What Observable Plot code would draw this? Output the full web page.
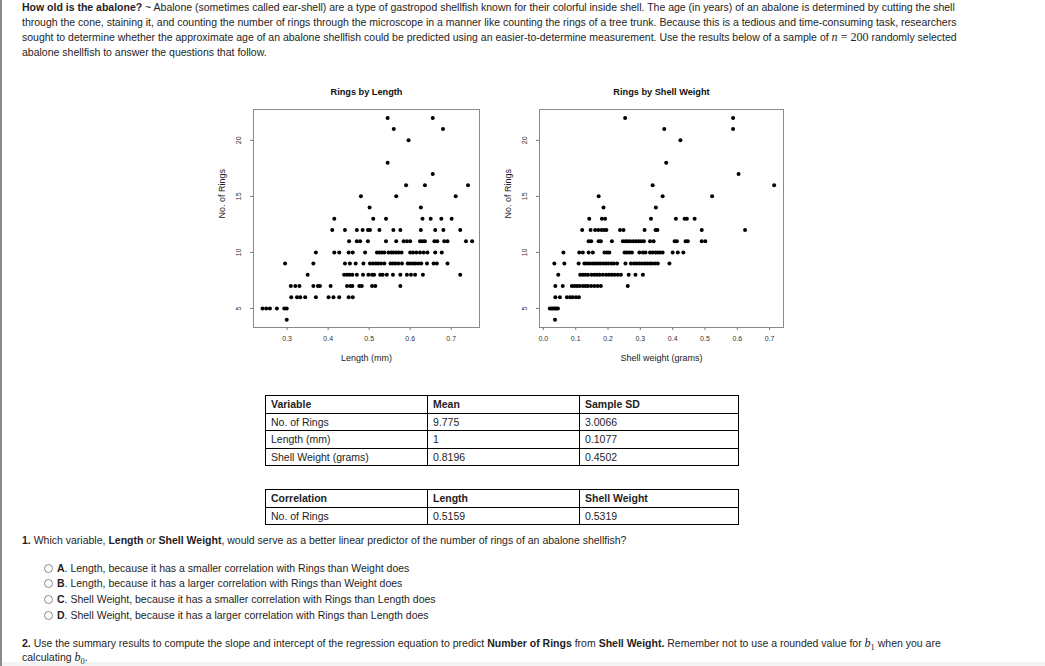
<!DOCTYPE html>
<html>
<head>
<meta charset="utf-8">
<script src="https://cdn.jsdelivr.net/npm/d3@7"></script>
<script src="https://cdn.jsdelivr.net/npm/@observablehq/plot@0.6"></script>
<style>
  html, body { margin: 0; padding: 0; background: #fff; }
  body { width: 1045px; height: 666px; position: relative; overflow: hidden;
         font-family: "Liberation Sans", Arial, Helvetica, sans-serif; color: #1e1e1e; }
  .abs { position: absolute; white-space: nowrap; }
  .txt { line-height: 15px; }
  .math { font-family: "Liberation Serif", "DejaVu Serif", serif; font-size: 1.15em; }
  .radio { position: absolute; width: 7px; height: 7px; border: 1px solid #8a8a8a; border-radius: 50%; background: #fff; }
  table { border-collapse: collapse; table-layout: fixed; position: absolute; }
  td { border: 1px solid #000; padding: 0 5px; height: 16.6px; line-height: 16px; white-space: nowrap; overflow: hidden; }
  th { border: 1px solid #000; padding: 0 5px; height: 16.6px; line-height: 16px; text-align: left; font-weight: bold; }
</style>
</head>
<body>
<div class="abs" style="left:0;top:0;width:2px;height:666px;background:#8c8c8c"></div>
<div class="abs" style="left:2px;top:662px;width:1043px;height:4px;background:#f4f4f4"></div>

<div id="intro" class="abs txt" style="left:22px;top:0px">
  <span id="l1"><b>How old is the abalone?</b> ~ Abalone (sometimes called ear-shell) are a type of gastropod shellfish known for their colorful inside shell. The age (in years) of an abalone is determined by cutting the shell</span><br>
  <span id="l2">through the cone, staining it, and counting the number of rings through the microscope in a manner like counting the rings of a tree trunk. Because this is a tedious and time-consuming task, researchers</span><br>
  <span id="l3">sought to determine whether the approximate age of an abalone shellfish could be predicted using an easier-to-determine measurement. Use the results below of a sample of <span class="math"><i>n</i> = 200</span> randomly selected</span><br>
  <span>abalone shellfish to answer the questions that follow.</span>
</div>

<div id="plotLength" class="abs" style="left:193px;top:80px;width:296px;height:290px"></div>
<div id="plotWeight" class="abs" style="left:483px;top:80px;width:310px;height:290px"></div>

<table id="statsTable" style="left:265px;top:395px;width:473px"></table>
<table id="corrTable" style="left:265px;top:489px;width:473px"></table>

<div class="abs txt" style="left:22px;top:533px"><b>1.</b> Which variable, <b>Length</b> or <b>Shell Weight</b>, would serve as a better linear predictor of the number of rings of an abalone shellfish?</div>
<div id="options"></div>

<div class="abs txt" style="left:22px;top:636px"><b>2.</b> Use the summary results to compute the slope and intercept of the regression equation to predict <b>Number of Rings</b> from <b>Shell Weight.</b> Remember not to use a rounded value for <span class="math"><i>b</i><sub style="font-size:0.7em">1</sub></span> when you are</div>
<div class="abs txt" style="left:22px;top:650px">calculating <span class="math"><i>b</i><sub style="font-size:0.7em">0</sub></span>.</div>

<script>
// ---------------- DATA ----------------
// Rings by Length: [length (mm), number of rings]
const lengthPoints = [
  [0.545,22],[0.655,22],
  [0.560,21],[0.680,21],
  [0.596,20],
  [0.545,18],
  [0.655,17],
  [0.590,16],[0.636,16],[0.741,16],
  [0.480,15],[0.566,15],[0.711,15],
  [0.501,14],[0.626,14],
  [0.415,13],[0.510,13],[0.541,13],[0.630,13],[0.650,13],[0.676,13],[0.701,13],
  [0.410,12],[0.441,12],[0.470,12],[0.484,12],[0.497,12],[0.502,12],[0.525,12],[0.559,12],[0.576,12],[0.626,12],[0.661,12],[0.681,12],[0.722,12],
  [0.451,11],[0.470,11],[0.478,11],[0.497,11],[0.541,11],[0.566,11],[0.584,11],[0.592,11],[0.600,11],[0.624,11],[0.630,11],[0.636,11],[0.659,11],[0.666,11],[0.683,11],[0.691,11],[0.736,11],[0.751,11],
  [0.370,10],[0.415,10],[0.427,10],[0.450,10],[0.460,10],[0.490,10],[0.519,10],[0.525,10],[0.531,10],[0.537,10],[0.547,10],[0.554,10],[0.559,10],[0.566,10],[0.572,10],[0.579,10],[0.600,10],[0.607,10],[0.615,10],[0.624,10],[0.633,10],[0.642,10],[0.661,10],[0.677,10],
  [0.295,9],[0.364,9],[0.441,9],[0.453,9],[0.467,9],[0.486,9],[0.502,9],[0.509,9],[0.516,9],[0.522,9],[0.529,9],[0.537,9],[0.552,9],[0.558,9],[0.564,9],[0.571,9],[0.580,9],[0.594,9],[0.600,9],[0.607,9],[0.613,9],[0.620,9],[0.627,9],[0.641,9],[0.657,9],[0.665,9],[0.691,9],
  [0.350,8],[0.439,8],[0.446,8],[0.452,8],[0.459,8],[0.470,8],[0.485,8],[0.498,8],[0.507,8],[0.512,8],[0.527,8],[0.533,8],[0.543,8],[0.558,8],[0.576,8],[0.592,8],[0.602,8],[0.612,8],[0.631,8],[0.722,8],
  [0.309,7],[0.320,7],[0.330,7],[0.364,7],[0.375,7],[0.380,7],[0.406,7],[0.446,7],[0.454,7],[0.459,7],[0.476,7],[0.482,7],[0.507,7],[0.515,7],[0.576,7],
  [0.310,6],[0.324,6],[0.332,6],[0.344,6],[0.370,6],[0.401,6],[0.413,6],[0.427,6],[0.450,6],[0.460,6],
  [0.240,5],[0.249,5],[0.258,5],[0.275,5],[0.293,5],[0.299,5],
  [0.299,4]
];

// Rings by Shell Weight: [shell weight (grams), number of rings]
const weightPoints = [
  [0.253,22],[0.587,22],
  [0.374,21],[0.587,21],
  [0.424,20],
  [0.380,18],
  [0.604,17],
  [0.338,16],[0.714,16],
  [0.171,15],[0.369,15],[0.522,15],
  [0.186,14],[0.348,14],
  [0.142,13],[0.181,13],[0.191,13],[0.333,13],[0.410,13],[0.437,13],[0.444,13],[0.468,13],
  [0.120,12],[0.146,12],[0.160,12],[0.170,12],[0.180,12],[0.188,12],[0.195,12],[0.237,12],[0.248,12],[0.313,12],[0.347,12],[0.353,12],[0.490,12],[0.624,12],
  [0.140,11],[0.148,11],[0.171,11],[0.178,11],[0.212,11],[0.246,11],[0.254,11],[0.261,11],[0.269,11],[0.278,11],[0.287,11],[0.295,11],[0.303,11],[0.311,11],[0.330,11],[0.341,11],[0.406,11],[0.413,11],[0.440,11],[0.447,11],[0.490,11],[0.501,11],
  [0.062,10],[0.111,10],[0.122,10],[0.140,10],[0.153,10],[0.189,10],[0.197,10],[0.204,10],[0.251,10],[0.258,10],[0.266,10],[0.274,10],[0.297,10],[0.308,10],[0.316,10],[0.330,10],[0.338,10],[0.347,10],[0.354,10],[0.361,10],[0.369,10],[0.400,10],[0.416,10],[0.433,10],
  [0.034,9],[0.065,9],[0.109,9],[0.127,9],[0.135,9],[0.143,9],[0.152,9],[0.160,9],[0.168,9],[0.176,9],[0.185,9],[0.193,9],[0.201,9],[0.210,9],[0.218,9],[0.228,9],[0.254,9],[0.271,9],[0.280,9],[0.288,9],[0.296,9],[0.304,9],[0.313,9],[0.321,9],[0.329,9],[0.337,9],[0.346,9],[0.354,9],[0.390,9],
  [0.046,8],[0.114,8],[0.122,8],[0.130,8],[0.138,8],[0.149,8],[0.158,8],[0.166,8],[0.174,8],[0.184,8],[0.194,8],[0.202,8],[0.211,8],[0.220,8],[0.230,8],[0.240,8],[0.264,8],[0.285,8],[0.308,8],
  [0.037,7],[0.060,7],[0.088,7],[0.096,7],[0.104,7],[0.112,7],[0.122,7],[0.130,7],[0.138,7],[0.148,7],[0.158,7],[0.168,7],[0.178,7],[0.261,7],
  [0.037,6],[0.051,6],[0.073,6],[0.083,6],[0.091,6],[0.101,6],[0.110,6],
  [0.020,5],[0.025,5],[0.030,5],[0.035,5],[0.040,5],[0.045,5],
  [0.036,4]
];

const lengthTicks = [0.3, 0.4, 0.5, 0.6, 0.7];
const weightTicks = [0.0, 0.1, 0.2, 0.3, 0.4, 0.5, 0.6, 0.7];
const ringTicks = [5, 10, 15, 20];
const lengthDomain = [0.218, 0.769];
const weightDomain = [-0.012, 0.743];
const ringDomain = [3.3, 22.75];

const statsHeader = ["Variable", "Mean", "Sample SD"];
const statsVariables = ["No. of Rings", "Length (mm)", "Shell Weight (grams)"];
const statsMeans = ["9.775", "1", "0.8196"];
const statsSDs = ["3.0066", "0.1077", "0.4502"];
const corrHeader = ["Correlation", "Length", "Shell Weight"];
const corrRow = ["No. of Rings", "0.5159", "0.5319"];

const optionLetters = ["A", "B", "C", "D"];
const optionTexts = [
  "Length, because it has a smaller correlation with Rings than Weight does",
  "Length, because it has a larger correlation with Rings than Weight does",
  "Shell Weight, because it has a smaller correlation with Rings than Length does",
  "Shell Weight, because it has a larger correlation with Rings than Length does"
];

// ---------------- TEXT SIZE ----------------
(function fitText() {
  const l2 = document.getElementById("l2");
  l2.style.display = "inline-block";
  const w = l2.getBoundingClientRect().width;
  const fs = parseFloat(getComputedStyle(l2).fontSize);
  const size = fs * 935 / w;
  l2.style.display = "";
  document.body.style.fontSize = size + "px";
})();

// ---------------- TABLES ----------------
function buildTable(id, header, rows) {
  const t = document.getElementById(id);
  const cg = document.createElement("colgroup");
  [162, 152, 159].forEach(w => { const c = document.createElement("col"); c.style.width = w + "px"; cg.appendChild(c); });
  t.appendChild(cg);
  const hr = document.createElement("tr");
  header.forEach(h => { const th = document.createElement("th"); th.textContent = h; hr.appendChild(th); });
  t.appendChild(hr);
  rows.forEach(r => {
    const tr = document.createElement("tr");
    r.forEach(v => { const td = document.createElement("td"); td.textContent = v; tr.appendChild(td); });
    t.appendChild(tr);
  });
}
buildTable("statsTable", statsHeader, statsVariables.map((v, i) => [v, statsMeans[i], statsSDs[i]]));
buildTable("corrTable", corrHeader, [corrRow]);

// ---------------- OPTIONS ----------------
(function buildOptions() {
  const box = document.getElementById("options");
  const centers = [568.3, 583.6, 599.3, 615];
  optionLetters.forEach((L, i) => {
    const r = document.createElement("div");
    r.className = "radio";
    r.style.left = "44px";
    r.style.top = (centers[i] - 4.5) + "px";
    box.appendChild(r);
    const d = document.createElement("div");
    d.className = "abs txt";
    d.style.left = "57px";
    d.style.top = (centers[i] - 7.5) + "px";
    d.innerHTML = "<b>" + L + "</b>. " + optionTexts[i];
    box.appendChild(d);
  });
})();

// ---------------- SCATTER PLOTS ----------------
function scatter(el, points, opts) {
  const chart = Plot.plot({
    width: opts.width,
    height: 290,
    marginLeft: opts.marginLeft,
    marginRight: opts.width - opts.marginLeft - opts.boxWidth,
    marginTop: 29,
    marginBottom: 43,
    x: { domain: opts.xDomain },
    y: { domain: ringDomain },
    style: { fontFamily: "'Liberation Sans', Arial, Helvetica, sans-serif", background: "transparent", color: "#222" },
    marks: [
      Plot.frame({ stroke: "#8a8a8a", strokeWidth: 1 }),
      Plot.axisX({ ticks: opts.xTicks, tickSize: 3, tickPadding: 6, fontSize: 7, stroke: "#777", fill: "#333",
                   tickFormat: d => d.toFixed(1), label: null }),
      Plot.axisY({ ticks: ringTicks, tickSize: 3, tickFormat: () => "", stroke: "#777", label: null }),
      Plot.text(ringTicks, { x: opts.xDomain[0], y: d => d, text: d => String(d), rotate: -90, dx: -15,
                             fontSize: 7, fill: "#333" }),
      Plot.dot(points, { x: d => d[0], y: d => d[1], r: 2, fill: "#000", stroke: "none" }),
      Plot.text([opts.title], { frameAnchor: "top", lineAnchor: "middle", dy: -17, fontSize: 9.2, fontWeight: "bold", fill: "#111" }),
      Plot.text([opts.xLabel], { frameAnchor: "bottom", lineAnchor: "middle", dy: 31, fontSize: 9, fill: "#222" }),
      Plot.text(["No. of Rings"], { frameAnchor: "left", lineAnchor: "middle", dx: -31, rotate: -90, fontSize: 9, fill: "#222" })
    ]
  });
  document.getElementById(el).appendChild(chart);
}

scatter("plotLength", lengthPoints, {
  width: 296, marginLeft: 60, boxWidth: 226, xDomain: lengthDomain, xTicks: lengthTicks,
  title: "Rings by Length", xLabel: "Length (mm)"
});
scatter("plotWeight", weightPoints, {
  width: 310, marginLeft: 56, boxWidth: 244, xDomain: weightDomain, xTicks: weightTicks,
  title: "Rings by Shell Weight", xLabel: "Shell weight (grams)"
});
</script>
</body>
</html>
